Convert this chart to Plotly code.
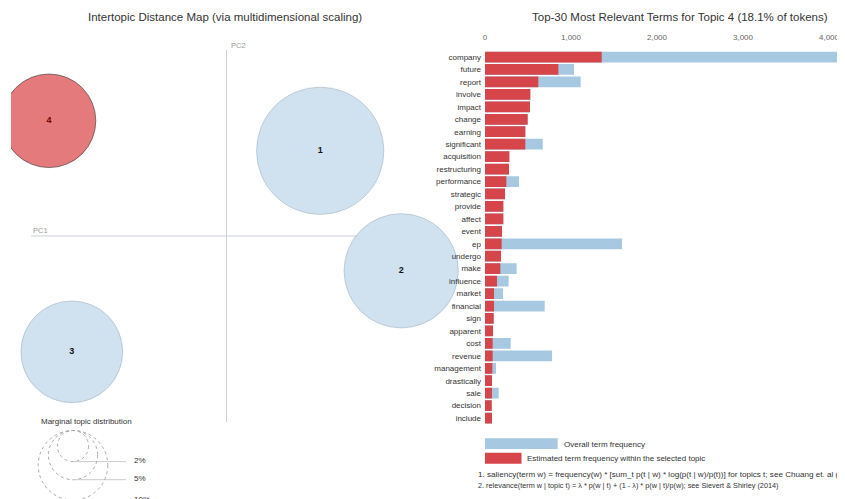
import plotly.graph_objects as go

# ---------------- data ----------------
topic_ids = ["1", "2", "3", "4"]
topic_pc1 = [0.157, 0.292, -0.257, -0.295]
topic_pc2 = [0.142, -0.058, -0.193, 0.192]
topic_freq = [33.5, 27.0, 21.4, 18.1]   # marginal topic distribution (%)
selected_topic = "4"

legend_pcts = [2, 5, 10]
legend_labels = ["2%", "5%", "10%"]

terms = ["company", "future", "report", "involve", "impact", "change", "earning",
         "significant", "acquisition", "restructuring", "performance", "strategic",
         "provide", "affect", "event", "ep", "undergo", "make", "influence", "market",
         "financial", "sign", "apparent", "cost", "revenue", "management",
         "drastically", "sale", "decision", "include"]
estimated_freq = [1357, 853, 620, 527, 523, 496, 469, 469, 283, 279, 248, 233,
                  213, 213, 198, 194, 186, 178, 140, 105, 105, 101, 93, 89, 89,
                  85, 81, 81, 78, 81]
overall_freq = [4500, 1035, 1112, 527, 523, 496, 469, 671, 283, 279, 395, 233,
                213, 213, 198, 1593, 186, 368, 275, 209, 694, 101, 93, 298, 779,
                128, 81, 159, 78, 81]
bar_ticks = [0, 1000, 2000, 3000, 4000]

# ---------------- geometry helpers ----------------
# the page body adds an 8px offset; positions below are given in screen pixels
W, H = 845, 499
OFF = 8
def px(x): return (x - OFF) / W
def py(y): return 1 - (y - OFF) / H

R_COEF = 11.0  # px radius per sqrt(percent)

fig = go.Figure()

# ---------------- left: intertopic distance map ----------------
blue_fill = "rgb(208,226,239)"
red_fill = "rgb(228,122,123)"
fills = [red_fill if t == selected_topic else blue_fill for t in topic_ids]
lines = ["rgba(60,60,60,0.6)" if t == selected_topic else "rgba(120,140,160,0.35)" for t in topic_ids]
txtcol = ["#7a0000" if t == selected_topic else "#111" for t in topic_ids]

fig.add_trace(go.Scatter(
    x=topic_pc1, y=topic_pc2, mode="markers+text", text=topic_ids,
    textposition="middle center",
    textfont=dict(family="Liberation Sans, Arial", size=9, color=txtcol, weight="bold"),
    marker=dict(size=topic_freq, sizemode="area", sizeref=1 / (2 * R_COEF ** 2),
                color=fills, opacity=1, line=dict(color=lines, width=1)),
    cliponaxis=True, hoverinfo="text", xaxis="x", yaxis="y",
))

# ---------------- right: bar chart ----------------
fig.add_trace(go.Bar(
    y=terms, x=overall_freq, orientation="h", marker=dict(color="rgb(166,201,225)", line=dict(width=0)),
    xaxis="x2", yaxis="y2", name="Overall term frequency",
))
fig.add_trace(go.Bar(
    y=terms, x=estimated_freq, orientation="h", marker=dict(color="rgb(214,69,74)", line=dict(width=0)),
    xaxis="x2", yaxis="y2", name="Estimated term frequency within the selected topic",
))

font_main = "Liberation Sans, Arial, sans-serif"

fig.update_layout(
    width=W, height=H, margin=dict(l=0, r=0, t=0, b=0, pad=0, autoexpand=False),
    paper_bgcolor="rgba(0,0,0,0)", plot_bgcolor="rgba(0,0,0,0)", showlegend=False,
    barmode="overlay", bargap=0.14,
    font=dict(family=font_main, color="#333"),
    xaxis=dict(domain=[px(11), px(480)], range=[(11 - 226) / 600, (480 - 226) / 600],
               showgrid=False, showticklabels=False, zeroline=True, automargin=False,
               zerolinecolor="rgb(205,210,215)", zerolinewidth=1, showline=False, fixedrange=True),
    yaxis=dict(domain=[py(422), py(50)], range=[-0.31, 0.31], automargin=False,
               showgrid=False, showticklabels=False, zeroline=False, showline=False, fixedrange=True),
    xaxis2=dict(domain=[px(485), px(845)], range=[0, (845 - 485) / 86 * 1000], side="top",
                anchor="y2", tickvals=bar_ticks, tickformat=",d", automargin=False,
                tickfont=dict(size=8, color="#666"), showgrid=False, zeroline=False,
                showline=False, ticks="", ticklabelstandoff=8),
    yaxis2=dict(domain=[py(424.3), py(50.8)], anchor="x2", type="category",
                categoryorder="array", categoryarray=terms, automargin=False,
                range=[len(terms) - 0.5, -0.5], tickfont=dict(size=8, color="#333"),
                showgrid=False, zeroline=False, showline=False, ticks="", ticklabelstandoff=3),
)

shapes = []
# PC1 axis line
shapes.append(dict(type="line", xref="paper", yref="y", x0=px(31), x1=px(420), y0=0, y1=0,
                   line=dict(color="rgb(205,210,215)", width=1), layer="below"))

def ann(text, x, y, size, color="#333", xanchor="left"):
    return dict(text=text, x=px(x), y=py(y), xref="paper", yref="paper", showarrow=False,
                xanchor=xanchor, yanchor="middle", font=dict(size=size, color=color))

annotations = [
    ann("Intertopic Distance Map (via multidimensional scaling)", 225, 17, 11.5, xanchor="center"),
    ann("Top-30 Most Relevant Terms for Topic 4 (18.1% of tokens)", 679.5, 17, 11.5, xanchor="center"),
    ann("PC1", 31, 230, 7.5, color="#999"),
    ann("PC2", 229, 46, 7.5, color="#999"),
    ann("Marginal topic distribution", 39, 421, 8),
]

# marginal distribution legend circles
cx, top = 73, 430.5
for p, lab in zip(legend_pcts, legend_labels):
    r = R_COEF * p ** 0.5
    shapes.append(dict(type="circle", xref="paper", yref="paper",
                       x0=px(cx - r), x1=px(cx + r), y0=py(top + 2 * r), y1=py(top),
                       line=dict(color="#aaa", width=1, dash="dot")))
    shapes.append(dict(type="line", xref="paper", yref="paper", x0=px(cx), x1=px(126),
                       y0=py(top + 2 * r), y1=py(top + 2 * r), line=dict(color="#ccc", width=1)))
    annotations.append(ann(lab, 132, top + 2 * r - 1, 8))

# bar legend
shapes.append(dict(type="rect", xref="paper", yref="paper", x0=px(485), x1=px(557.7),
                   y0=py(449), y1=py(438.3), fillcolor="rgb(166,201,225)", line=dict(width=0)))
shapes.append(dict(type="rect", xref="paper", yref="paper", x0=px(485), x1=px(521.5),
                   y0=py(463.7), y1=py(452.7), fillcolor="rgb(214,69,74)", line=dict(width=0)))
annotations += [
    ann("Overall term frequency", 562, 444, 8),
    ann("Estimated term frequency within the selected topic", 525, 458.5, 8),
    ann("1. saliency(term w) = frequency(w) * [sum_t p(t | w) * log(p(t | w)/p(t))] for topics t; see Chuang et. al (2012)",
        476, 474.5, 8.1),
    ann("2. relevance(term w | topic t) = \u03bb * p(w | t) + (1 - \u03bb) * p(w | t)/p(w); see Sievert & Shirley (2014)",
        476, 485, 7.3),
]

fig.update_layout(shapes=shapes, annotations=annotations)
fig.write_html("out.html")
